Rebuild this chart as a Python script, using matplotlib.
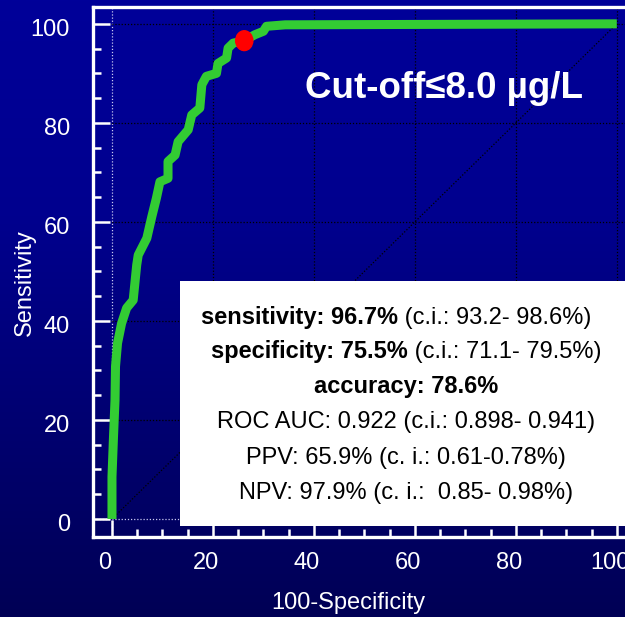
import numpy as np
import matplotlib
matplotlib.use("Agg")
import matplotlib.pyplot as plt
import matplotlib.transforms as mtransforms
from matplotlib.patches import Rectangle, Ellipse
from matplotlib.ticker import MultipleLocator

plt.rcParams['font.family'] = ['Liberation Sans', 'DejaVu Sans']

# ROC curve (100-specificity vs sensitivity, in %)
fpr = [0, 0, 0.3, 0.6, 0.7, 1.1, 1.9, 2.9, 4.2, 4.9, 5.2, 6.9, 7.9, 8.8, 9.5,
       11.1, 11.1, 12.5, 13.1, 15.1, 15.8, 17.4, 17.8, 18.7, 20.7, 21.0, 22.7,
       23.0, 24.0, 26.2, 28.3, 30.0, 30.6, 34.3, 100]
tpr = [0, 8.5, 16.6, 24, 30.8, 35.5, 39.5, 42.6, 44.2, 51.3, 53.3, 56.7, 61.1,
       64.8, 68.1, 68.8, 72.2, 73.5, 76.2, 78.6, 81.6, 83, 87.7, 89.4, 90, 92,
       93.1, 95.1, 96.1, 96.6, 97.8, 98.5, 99.5, 99.8, 100]
cutoff_x, cutoff_y = 26.2, 96.6
ticks = [0, 20, 40, 60, 80, 100]

title = "Cut-off\u22648.0 \u00b5g/L"
bold_parts = ["sensitivity: 96.7%", "specificity: 75.5%"]
plain_parts = [" (c.i.: 93.2- 98.6%)", " (c.i.: 71.1- 79.5%)"]
accuracy = "accuracy: 78.6%"
other_lines = ["ROC AUC: 0.922 (c.i.: 0.898- 0.941)",
               "PPV: 65.9% (c. i.: 0.61-0.78%)",
               "NPV: 97.9% (c. i.:  0.85- 0.98%)"]

W, H = 625, 617


def px(x, y):
    # pixel position (from top-left) -> figure fraction
    return x / W, 1 - y / H


fig = plt.figure(figsize=(W / 100, H / 100), dpi=100)

# background gradient
bg = fig.add_axes([0, 0, 1, 1], zorder=-10)
bg.axis('off')
rows = np.linspace(0, 1, 256)
blue = np.interp(rows, [0, 0.35, 1.0], [0x99, 0x8E, 0x55]) / 255
grad = np.zeros((256, 1, 3))
grad[:, 0, 2] = blue
bg.imshow(grad, aspect='auto', extent=[0, 1, 0, 1])

ax = fig.add_axes([93 / W, 80 / H, 544 / W, 530 / H])
ax.set_facecolor('none')
ax.set_xlim(-3.76, 104)
ax.set_ylim(-3.64, 103.4)

for side in ['left', 'top', 'bottom']:
    ax.spines[side].set_color('white')
    ax.spines[side].set_linewidth(2.4)
ax.spines['right'].set_visible(False)

ax.set_xticks(ticks)
ax.set_yticks(ticks)
ax.xaxis.set_minor_locator(MultipleLocator(5))
ax.yaxis.set_minor_locator(MultipleLocator(5))
ax.tick_params(which='both', direction='in', color='white', width=1.8)
ax.tick_params(which='major', length=12)
ax.tick_params(which='minor', length=6)
ax.tick_params(axis='y', which='major', pad=16.5, labelsize=17, labelcolor='white')
ax.tick_params(axis='x', which='major', pad=10.5, labelsize=17, labelcolor='white')

xoff = mtransforms.ScaledTranslation(-7 / 100, 0, fig.dpi_scale_trans)
yoff = mtransforms.ScaledTranslation(0, -3.5 / 100, fig.dpi_scale_trans)
for lab in ax.get_xticklabels():
    lab.set_transform(lab.get_transform() + xoff)
for lab in ax.get_yticklabels():
    lab.set_transform(lab.get_transform() + yoff)

# dotted grid
for t in ticks:
    c = '#c8c8f0' if t == 0 else 'black'
    ax.axvline(t, color=c, ls=(0, (1, 1.5)), lw=0.9, zorder=1)
    ax.axhline(t, color=c, ls=(0, (1, 1.5)), lw=0.9, zorder=1)
ax.plot([0, 100], [0, 100], color='black', ls=(0, (1, 1.5)), lw=0.9, zorder=1)

ax.plot(fpr, tpr, color='#33cc33', lw=6.5, solid_joinstyle='round',
        solid_capstyle='butt', zorder=5)
ax.add_patch(Ellipse((cutoff_x, cutoff_y), 3.4, 4.0, color='#ff0000', zorder=6))

# white stats box
ax.add_patch(Rectangle((13.5, -1.4), 95, 49.5, facecolor='white',
                       edgecolor='none', zorder=4, clip_on=False))

fig.text(*px(444, 98), title, color='white', fontsize=26.5, fontweight='bold',
         ha='center', va='baseline')

fig.text(*px(25, 283), 'Sensitivity', color='white', fontsize=17,
         rotation=90, ha='center', va='center')
fig.text(*px(348, 603), '100-Specificity', color='white', fontsize=17,
         ha='center', va='center')

fs = 17
split_x = [398, 408]
base_y = [324, 358]
for b, p, sx, by in zip(bold_parts, plain_parts, split_x, base_y):
    fig.text(*px(sx, by), b, fontsize=fs, fontweight='bold', color='black',
             ha='right', va='baseline', zorder=10)
    fig.text(*px(sx, by), p, fontsize=fs, color='black',
             ha='left', va='baseline', zorder=10)
fig.text(*px(406, 393), accuracy, fontsize=fs, fontweight='bold', color='black',
         ha='center', va='baseline', zorder=10)
for line, by in zip(other_lines, [428, 464, 499]):
    fig.text(*px(406, by), line, fontsize=fs, color='black',
             ha='center', va='baseline', zorder=10)

fig.savefig('out.png', dpi=100)
